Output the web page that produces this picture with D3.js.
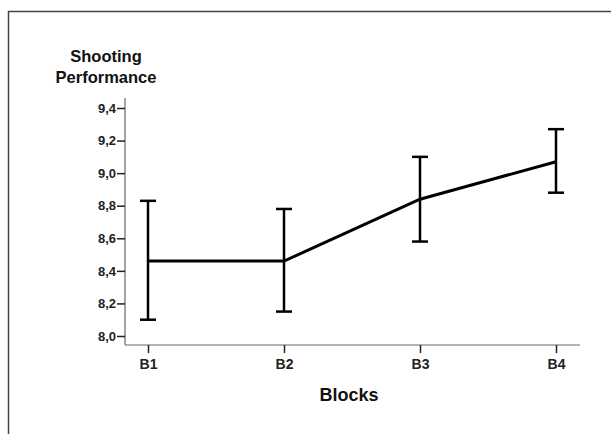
<!DOCTYPE html>
<html>
<head>
<meta charset="utf-8">
<script src="https://cdn.jsdelivr.net/npm/d3@7"></script>
<style>
  body { margin: 0; background: #fff; }
  svg { display: block; font-family: "Liberation Sans", Arial, sans-serif; }
</style>
</head>
<body>
<svg id="chart"></svg>
<script>
// data
const blocks = ["B1", "B2", "B3", "B4"];
const means = [8.46, 8.46, 8.84, 9.07];
const upper = [8.83, 8.78, 9.10, 9.27];
const lower = [8.10, 8.15, 8.58, 8.88];
const yTicks = [8.0, 8.2, 8.4, 8.6, 8.8, 9.0, 9.2, 9.4];

const width = 611, height = 434;
const font = "'Liberation Sans', Arial, sans-serif";
const svg = d3.select("#chart").attr("width", width).attr("height", height);

// frame (left + top edges only)
svg.append("path")
  .attr("d", "M8.5,434V11.5H611")
  .attr("fill", "none")
  .attr("stroke", "#444")
  .attr("stroke-width", 1.5);

const axisLeft = 125, axisBottom = 345;

const x = d3.scalePoint().domain(blocks).range([148, 556]);
const y = d3.scaleLinear().domain([8.0, 9.4]).range([336, 108]);

// axis lines
svg.append("line")
  .attr("x1", axisLeft).attr("x2", axisLeft)
  .attr("y1", 98).attr("y2", axisBottom)
  .attr("stroke", "#666").attr("stroke-width", 1.2);
svg.append("line")
  .attr("x1", axisLeft).attr("x2", 580)
  .attr("y1", axisBottom).attr("y2", axisBottom)
  .attr("stroke", "#666").attr("stroke-width", 1.2);

// y axis ticks
const yAxis = svg.append("g")
  .attr("transform", "translate(" + axisLeft + ",0)")
  .call(d3.axisLeft(y).tickValues(yTicks).tickSize(8).tickPadding(1)
    .tickFormat(d => d3.format(".1f")(d).replace(".", ",")));
yAxis.attr("font-family", font);
yAxis.select(".domain").remove();
yAxis.selectAll(".tick line").attr("stroke", "#222").attr("stroke-width", 1.5);
yAxis.selectAll(".tick text")
  .style("font-size", "13px").style("font-weight", "bold").attr("fill", "#222");

// x axis ticks
const xAxis = svg.append("g")
  .attr("transform", "translate(0," + axisBottom + ")")
  .call(d3.axisBottom(x).tickSize(8).tickPadding(6));
xAxis.attr("font-family", font);
xAxis.select(".domain").remove();
xAxis.selectAll(".tick line").attr("stroke", "#222").attr("stroke-width", 1.5);
xAxis.selectAll(".tick text")
  .style("font-size", "14px").style("font-weight", "bold").attr("fill", "#222");

// mean line
svg.append("path")
  .datum(blocks)
  .attr("d", d3.line().x(d => x(d)).y((d, i) => y(means[i])))
  .attr("fill", "none")
  .attr("stroke", "#000")
  .attr("stroke-width", 3);

// error bars
const cap = 8;
const bars = svg.append("g").attr("stroke", "#000").attr("stroke-width", 2.5);
blocks.forEach((b, i) => {
  bars.append("line")
    .attr("x1", x(b)).attr("x2", x(b))
    .attr("y1", y(lower[i])).attr("y2", y(upper[i]));
  bars.append("line")
    .attr("x1", x(b) - cap).attr("x2", x(b) + cap)
    .attr("y1", y(upper[i])).attr("y2", y(upper[i]));
  bars.append("line")
    .attr("x1", x(b) - cap).attr("x2", x(b) + cap)
    .attr("y1", y(lower[i])).attr("y2", y(lower[i]));
});

// titles
svg.append("text")
  .attr("x", 106).attr("y", 62)
  .attr("text-anchor", "middle")
  .style("font-size", "16.5px").style("font-weight", "bold").attr("fill", "#111")
  .text("Shooting");
svg.append("text")
  .attr("x", 106).attr("y", 83)
  .attr("text-anchor", "middle")
  .style("font-size", "16.5px").style("font-weight", "bold").attr("fill", "#111")
  .text("Performance");
svg.append("text")
  .attr("x", 349).attr("y", 401)
  .attr("text-anchor", "middle")
  .style("font-size", "18px").style("font-weight", "bold").attr("fill", "#111")
  .text("Blocks");
</script>
</body>
</html>
